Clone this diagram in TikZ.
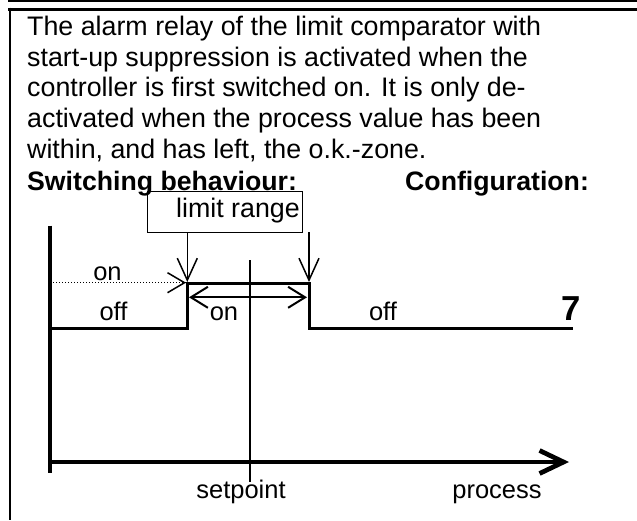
\documentclass[tikz,border=0pt]{standalone}
\usepackage{fontspec}
\setmainfont{Liberation Sans}
\usetikzlibrary{arrows.meta}
\begin{document}
\begin{tikzpicture}[x=1pt,y=-1pt,
  txt/.style={inner sep=0pt, anchor=base west, font=\fontsize{26.8}{30.67}\selectfont},
  lbl/.style={inner sep=0pt, anchor=base, font=\fontsize{25.5}{30}\selectfont},
  head/.style={inner sep=0pt, anchor=base west, font=\bfseries\fontsize{26.67}{30.67}\selectfont},
  barb/.style={-{Straight Barb[length=22pt,width=20pt]}},
  relay/.style={line width=3pt},
  thin/.style={line width=1.5pt}]
\useasboundingbox (0,0) rectangle (637,520);
% frame
\draw[line width=2pt] (8,0.8) -- (637,0.8);
\draw[line width=3pt] (8,9) -- (637,9);
\draw[line width=2.5pt] (10,7.5) -- (10,520);
% paragraph
\node (l1) [txt] at (27,35.5) {The alarm relay of the limit comparator with};
\node (l2) [txt] at (27,66) {start-up suppression is activated when the};
\node (l3) [txt] at (27,96.8) {controller is first switched on. It is only de-};
\node (l4) [txt] at (27,127.8) {activated when the process value has been};
\node (l5) [txt] at (27,158.7) {within, and has left, the o.k.-zone.};
\node (sw) [head] at (27,190) {Switching behaviour:};
\node (cf) [head] at (405,190) {Configuration:};
% limit range box
\node (lrbox) [draw, line width=1.2pt, inner sep=0pt, minimum width=155pt, minimum height=41pt, anchor=north west] at (147,191) {};
\node (lrtext) [txt, anchor=base east] at (300,217) {limit range};
% axes
\coordinate (vtop) at (50,225.7);
\coordinate (vbot) at (50,473);
\coordinate (hstart) at (50,462);
\coordinate (hend) at (569,462);
\draw[line width=4.5pt] (vtop) -- (vbot);
\draw[line width=4.7pt, -{Straight Barb[length=24pt,width=23pt]}] (hstart) -- (hend);
% setpoint line
\coordinate (sptop) at (250,260);
\coordinate (spbot) at (250,482);
\draw[line width=2pt] (sptop) -- (spbot);
% relay characteristic
\coordinate (r0) at (50,328.3);
\coordinate (r1) at (187.3,328.3);
\coordinate (r2) at (187.3,283.3);
\coordinate (r3) at (309,283.3);
\coordinate (r4) at (309,328.3);
\coordinate (r5) at (573,328.3);
\draw[relay] (r0) -- (r1) -- (r2) -- (r3) -- (r4) -- (r5);
% limit arrows
\coordinate (a1s) at (187.3,232);
\coordinate (a1e) at (187.3,282);
\coordinate (a2s) at (309,232);
\coordinate (a2e) at (309,282);
\draw[thin, barb] (a1s) -- (a1e);
\draw[thin, barb] (a2s) -- (a2e);
% dotted start-up line
\coordinate (d0) at (50,282.7);
\coordinate (d1) at (186,282.7);
\coordinate (d1b) at (185,282.7);
\draw[line width=1pt, dotted] (d0) -- (d1);
\draw[line width=1.5pt, -{Straight Barb[length=17pt,width=20pt]}] (d1b) -- (d1);
% on zone double arrow
\coordinate (z0) at (189,297.3);
\coordinate (z1) at (307,297.3);
\draw[line width=2pt, {Straight Barb[length=17pt,width=21pt]}-{Straight Barb[length=17pt,width=21pt]}] (z0) -- (z1);
% labels
\node (on1) [lbl] at (107.5,280) {on};
\node (off1) [lbl] at (113.5,320) {off};
\node (on2) [lbl] at (224,320) {on};
\node (off2) [lbl] at (383,320) {off};
\node (seven) [inner sep=0pt, anchor=base west, font=\bfseries\fontsize{34.67}{40}\selectfont] at (561,320) {7};
\node (sp) [lbl] at (241,498) {setpoint};
\node (pr) [lbl] at (497,498) {process};
\end{tikzpicture}
\end{document}
